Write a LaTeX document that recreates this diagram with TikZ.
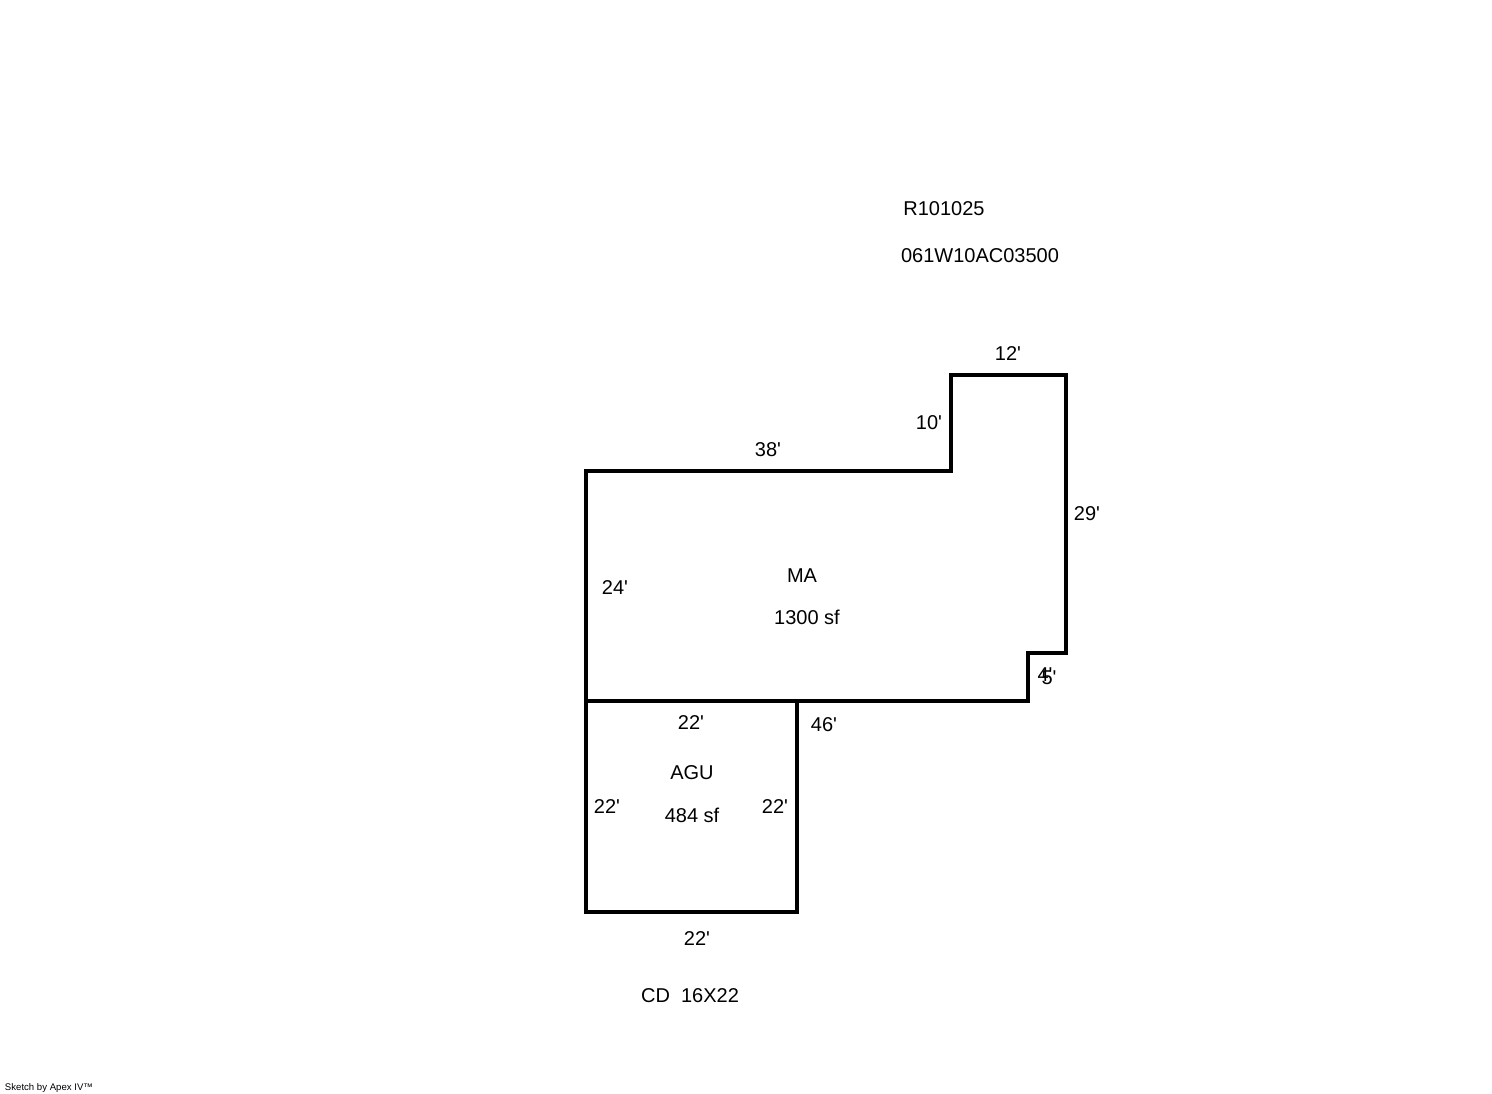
\documentclass[tikz,border=0pt]{standalone}
\usepackage{fontspec}
\setmainfont{Liberation Sans}[Ligatures=TeXOff]
\usetikzlibrary{calc}
\begin{document}
\begin{tikzpicture}[x=1pt,y=-1pt,
    wall/.style={draw=black, line width=4pt, line join=miter},
    dim/.style={inner sep=0pt, font=\fontsize{20}{20}\selectfont}]
    \useasboundingbox (0,0) rectangle (1492,1094);
    \coordinate (A) at (586,471);
    % outline of the main area
    \draw[wall] (A) -- (951,471) -- (951,375) -- (1066,375) -- (1066,653)
        -- (1028,653) -- (1028,701) -- (586,701) -- cycle;
    % garage below it
    \draw[wall] (586,701) -- (586,912) -- (797,912) -- (797,701);
    \foreach \x/\y/\t in {1008/354/12', 929/423/10', 768/450/38', 1087/514/29',
        615/588/24', 691/723/22', 824/725/46', 607/807/22', 775/807/22',
        697/939/22', 1045/675/4', 1049/678/5',
        944/209/R101025, 980/256/061W10AC03500, 802/576/MA, 807/617/1300 sf,
        692/773/AGU, 692/815/484 sf, 690/996/CD\ \ 16X22}
    {
        \node[dim] at (\x,\y) {\t};
    }
    \node[inner sep=0pt, font=\fontsize{9.6}{9.6}\selectfont] at (49,1088) {Sketch by Apex IV™};
\end{tikzpicture}
\end{document}
